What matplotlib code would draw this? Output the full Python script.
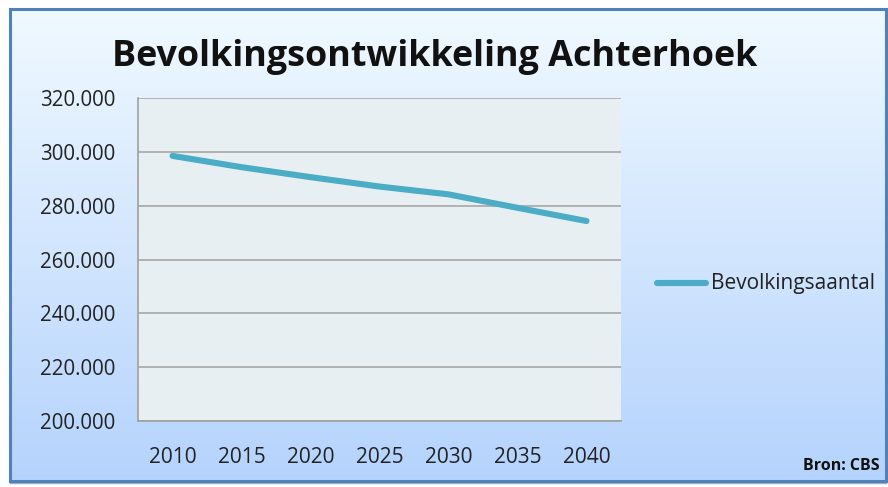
import matplotlib
matplotlib.use("Agg")
import matplotlib.pyplot as plt
import numpy as np
from matplotlib.patches import Rectangle
from matplotlib.lines import Line2D

years = ["2010", "2015", "2020", "2025", "2030", "2035", "2040"]
population = [298500, 294300, 290600, 287100, 284200, 279200, 274300]
yticks = [200000, 220000, 240000, 260000, 280000, 300000, 320000]
ytick_labels = ["200.000", "220.000", "240.000", "260.000", "280.000", "300.000", "320.000"]
title = "Bevolkingsontwikkeling Achterhoek"
series_name = "Bevolkingsaantal"
source = "Bron: CBS"

FONT = "Open Sans"
W, H = 888, 487
fig = plt.figure(figsize=(W / 100, H / 100), dpi=100)
fig.patch.set_facecolor("white")

# background gradient inside chart frame
x0, y0, x1, y1 = 10, 9, 886, 481
bg = fig.add_axes([x0 / W, 1 - y1 / H, (x1 - x0) / W, (y1 - y0) / H])
top_c = np.array([0xF0, 0xF9, 0xFF]) / 255
bot_c = np.array([0xB5, 0xD3, 0xFD]) / 255
t = np.linspace(0, 1, 256)[:, None]
grad = top_c[None, :] * (1 - t) + bot_c[None, :] * t
bg.imshow(grad[:, None, :], aspect="auto", extent=[0, 1, 0, 1], origin="upper")
bg.set_xlim(0, 1)
bg.set_ylim(0, 1)
bg.axis("off")

# frame border (blue top/left, darker shadowed right/bottom)
fig.patches.append(Rectangle((x0 / W, 1 - y1 / H), (x1 - x0) / W, (y1 - y0) / H,
                             transform=fig.transFigure, fill=False,
                             edgecolor="#4F81BD", linewidth=2.2, zorder=5))
fig.add_artist(Line2D([x0 / W, x1 / W], [1 - (y1 + 1.5) / H] * 2, transform=fig.transFigure,
                      color="#6A7A90", linewidth=1.0, alpha=0.6))
fig.add_artist(Line2D([(x1 + 1.5) / W] * 2, [1 - y1 / H, 1 - y0 / H], transform=fig.transFigure,
                      color="#6A7A90", linewidth=1.0, alpha=0.6))

ax = fig.add_axes([138 / W, 1 - 421 / H, 483 / W, 323 / H])
ax.set_facecolor("#E8EFF3")
x = np.arange(len(years))
ax.plot(x, population, color="#4BACC6", linewidth=4.4, solid_capstyle="round",
        solid_joinstyle="round", label=series_name, zorder=3)
ax.set_xlim(-0.5, len(years) - 0.5)
ax.set_ylim(200000, 320000)
ax.set_yticks(yticks)
ax.set_yticklabels(ytick_labels, fontfamily=FONT, fontsize=14.8, color="#222222")
ax.set_xticks(x)
ax.set_xticklabels(years, fontfamily=FONT, fontsize=15, color="#222222")
ax.tick_params(axis="both", length=0)
ax.tick_params(axis="y", pad=16.5)
ax.tick_params(axis="x", pad=18.5)
ax.yaxis.grid(True, color="#A6A6A6", linewidth=1.2)
ax.set_axisbelow(True)
for s in ["top", "right"]:
    ax.spines[s].set_visible(False)
for s in ["left", "bottom"]:
    ax.spines[s].set_color("#A0A0A0")
    ax.spines[s].set_linewidth(1.2)

fig.text(435 / W, 1 - 57 / H, title, ha="center", va="center",
         fontfamily=FONT, fontweight="bold", fontsize=25.8, color="#111111")

# legend
ly = 1 - 283 / H
fig.add_artist(Line2D([657 / W, 706 / W], [ly, ly], transform=fig.transFigure,
                      color="#4BACC6", linewidth=4.4, solid_capstyle="round"))
fig.text(711 / W, ly, series_name, ha="left", va="center",
         fontfamily=FONT, fontsize=15, color="#222222")

fig.text(880 / W, 1 - 466 / H, source, ha="right", va="center",
         fontfamily=FONT, fontweight="bold", fontsize=11.5, color="#111111")

fig.savefig("out.png", dpi=100)
